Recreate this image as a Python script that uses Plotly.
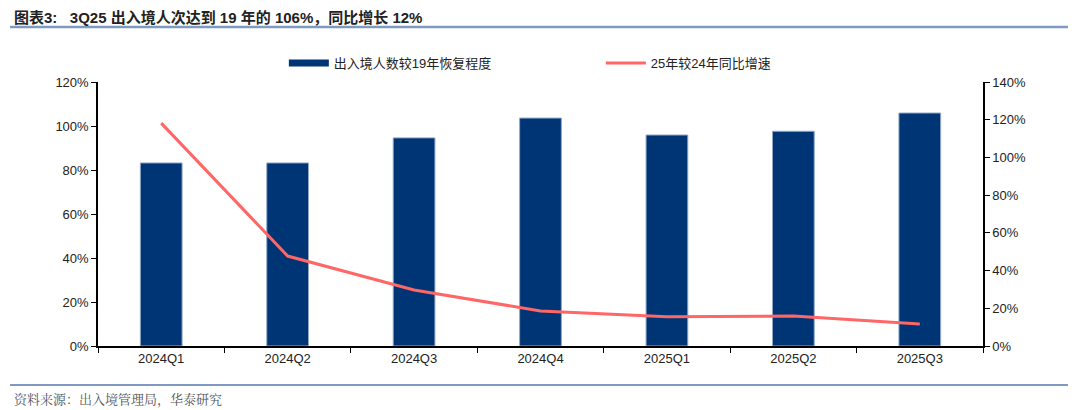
import plotly.graph_objects as go

categories = ["2024Q1", "2024Q2", "2024Q3", "2024Q4", "2025Q1", "2025Q2", "2025Q3"]
recovery = [0.832, 0.832, 0.946, 1.036, 0.959, 0.976, 1.059]
yoy = [1.182, 0.477, 0.297, 0.186, 0.155, 0.159, 0.117]

bar_name = "出入境人数较19年恢复程度"
line_name = "25年较24年同比增速"
title_text = "图表3:   3Q25 出入境人次达到 19 年的 106%，同比增长 12%"
source_text = "资料来源：出入境管理局，华泰研究"

FONT = "Liberation Sans, Noto Sans CJK SC, sans-serif"
NAVY = "#003575"

fig = go.Figure()
fig.add_trace(go.Bar(
    x=categories, y=recovery, name=bar_name, showlegend=False,
    marker=dict(color=NAVY, line=dict(color="#8FA8C8", width=1)),
    width=0.33, yaxis="y",
))
# legend-only entry so the bar series shows a wide flat swatch like the reference
fig.add_trace(go.Scatter(
    x=[None], y=[None], name=bar_name, mode="lines",
    line=dict(color=NAVY, width=7), yaxis="y",
))
fig.add_trace(go.Scatter(
    x=categories, y=yoy, name=line_name, mode="lines",
    line=dict(color="#FF6666", width=3), yaxis="y2",
))

fig.update_layout(
    width=1072, height=402,
    margin=dict(l=90, r=97, t=74, b=64, autoexpand=False),
    paper_bgcolor="white", plot_bgcolor="white",
    font=dict(family=FONT, size=13, color="#222222"),
    showlegend=True,
    legend=dict(orientation="h", x=0.210, xanchor="left", y=1.072, yanchor="middle",
                font=dict(size=13, color="#222222"), itemwidth=40,
                traceorder="normal", entrywidth=262, entrywidthmode="pixels"),
    xaxis=dict(showline=True, linecolor="black", linewidth=1.5, ticks="outside",
               ticklen=5, tickcolor="black", tickson="boundaries",
               showgrid=False, tickfont=dict(size=13, color="#222222")),
    yaxis=dict(range=[0, 1.2], dtick=0.2, tickformat=".0%", showline=True,
               linecolor="black", linewidth=1.5, ticks="outside", ticklen=5,
               tickcolor="black", showgrid=False, zeroline=False,
               tickfont=dict(size=13, color="#222222")),
    yaxis2=dict(range=[0, 1.4], dtick=0.2, tickformat=".0%", overlaying="y",
                side="right", showline=True, linecolor="black", linewidth=1.5,
                ticks="outside", ticklen=5, tickcolor="black", showgrid=False,
                zeroline=False, tickfont=dict(size=13, color="#222222")),
    shapes=[
        dict(type="line", xref="paper", yref="paper", x0=-0.0994, x1=1.096,
             y0=1.208, y1=1.208, line=dict(color="#7F9AC0", width=2.5)),
        dict(type="line", xref="paper", yref="paper", x0=-0.0994, x1=1.096,
             y0=-0.148, y1=-0.148, line=dict(color="#7F9AC0", width=2)),
    ],
    annotations=[
        dict(text="<b>" + title_text + "</b>", xref="paper", yref="paper",
             x=-0.097, y=1.246, xanchor="left", yanchor="middle", showarrow=False,
             font=dict(size=15, color="#222222", family=FONT)),
        dict(text=source_text, xref="paper", yref="paper", x=-0.097, y=-0.197,
             xanchor="left", yanchor="middle", showarrow=False,
             font=dict(size=13, color="#555555", family="Noto Serif CJK SC, Noto Sans CJK SC, serif")),
    ],
)

fig.write_html("out.html")
